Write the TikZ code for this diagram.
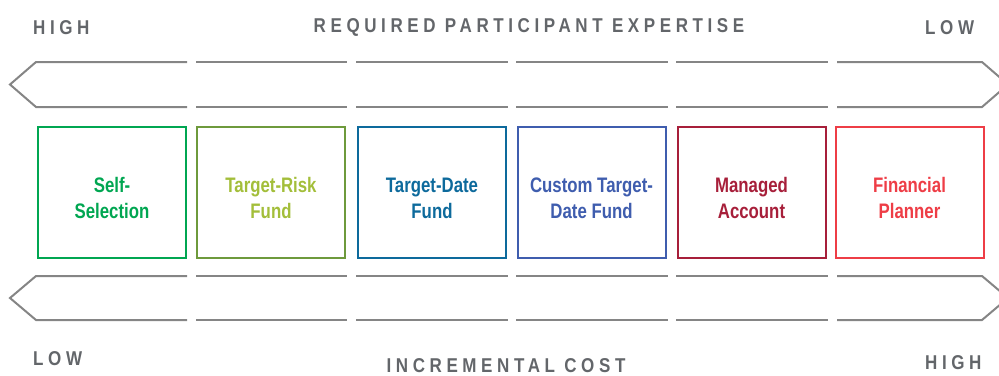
\documentclass[tikz,border=0pt]{standalone}
\usepackage{fontspec}
\setmainfont{Liberation Sans}
\newfontfamily\boxfont[FakeStretch=0.8]{Liberation Sans}
\newfontfamily\scalefont[FakeStretch=0.85,LetterSpace=23]{Liberation Sans}
\definecolor{linegray}{HTML}{858585}
\definecolor{textgray}{HTML}{63666A}
\definecolor{selfgreen}{HTML}{00A651}
\definecolor{riskolive}{HTML}{6E9A3C}
\definecolor{risktext}{HTML}{A3BE3A}
\definecolor{dateblue}{HTML}{0D6A9C}
\definecolor{customblue}{HTML}{3F5DAE}
\definecolor{managedred}{HTML}{A71F3A}
\definecolor{plannerred}{HTML}{EE3D46}
\tikzset{
    fundbox/.style={draw, line width=2pt, minimum width=148pt, minimum height=131pt},
    fundtext/.style={align=center, inner sep=0pt, yshift=-5.5pt,
        font=\boxfont\bfseries\fontsize{21}{26}\selectfont},
    scalelabel/.style={text=textgray, inner sep=0pt, font=\scalefont\bfseries\fontsize{20}{20}\selectfont},
    arrowline/.style={draw=linegray, line width=2pt}
}
\begin{document}
\begin{tikzpicture}[x=1pt,y=-1pt]
    \useasboundingbox (0,0) rectangle (999,375);

    % top scale
    \node[scalelabel, anchor=base west] (tophigh) at (33,34) {HIGH};
    \node[scalelabel, anchor=base] (expertise) at (529,32) {REQUIRED PARTICIPANT EXPERTISE};
    \node[scalelabel, anchor=base west] (toplow) at (925,34) {LOW};

    % arrow bands
    \foreach \ytop/\ymid/\ybot in {62/84.5/107, 276/298/320} {
        \draw[arrowline] (187,\ytop) -- (36,\ytop) -- (10,\ymid) -- (36,\ybot) -- (187,\ybot);
        \foreach \xa/\xb in {196/347, 356/508, 516/668, 676/828} {
            \draw[arrowline] (\xa,\ytop) -- (\xb,\ytop);
            \draw[arrowline] (\xa,\ybot) -- (\xb,\ybot);
        }
        \draw[arrowline] (837,\ytop) -- (982,\ytop) -- (1008,\ymid) -- (982,\ybot) -- (837,\ybot);
    }

    % fund choices
    \node[fundbox, draw=selfgreen,
        label={[fundtext, text=selfgreen, name=selftext]center:Self-\\Selection}] (self) at (112,192.5) {};
    \node[fundbox, draw=riskolive,
        label={[fundtext, text=risktext, name=risktext]center:Target-Risk\\Fund}] (risk) at (271,192.5) {};
    \node[fundbox, draw=dateblue,
        label={[fundtext, text=dateblue, name=datetext]center:Target-Date\\Fund}] (date) at (432,192.5) {};
    \node[fundbox, draw=customblue,
        label={[fundtext, text=customblue, name=customtext]center:Custom Target-\\Date Fund}] (custom) at (591.5,192.5) {};
    \node[fundbox, draw=managedred,
        label={[fundtext, text=managedred, name=managedtext]center:Managed\\Account}] (managed) at (751.5,192.5) {};
    \node[fundbox, draw=plannerred,
        label={[fundtext, text=plannerred, name=plannertext]center:Financial\\Planner}] (planner) at (909.5,192.5) {};

    % bottom scale
    \node[scalelabel, anchor=base west] (botlow) at (33,365) {LOW};
    \node[scalelabel, anchor=base] (cost) at (506,372) {INCREMENTAL COST};
    \node[scalelabel, anchor=base west] (bothigh) at (925,369) {HIGH};
\end{tikzpicture}
\end{document}
